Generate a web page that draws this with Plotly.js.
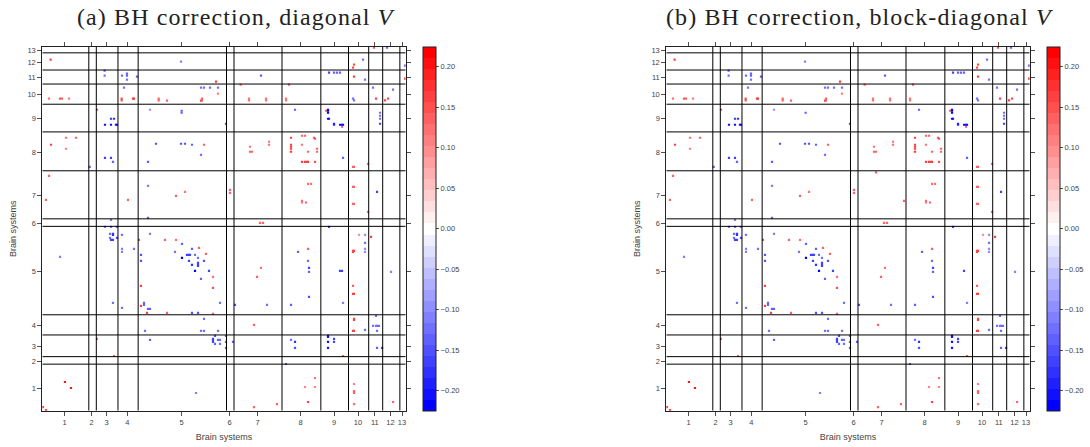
<!DOCTYPE html>
<html><head><meta charset="utf-8">
<script src="https://cdn.plot.ly/plotly-3.0.1.min.js"></script>
<style>html,body{margin:0;padding:0;background:#fff}.annotation-text{letter-spacing:1.1px}</style></head>
<body><div id="chart" style="width:1090px;height:447px"></div>
<script>
// Positions are along the brain-region ordering, on a 0-1090 matrix scale.
const tickLabels=["1","2","3","4","5","6","7","8","9","10","11","12","13"];
const tickPositions=[67,148,192.5,255,417.5,561.5,645.5,774.5,875,947,997.5,1044.5,1079];
const systemBoundaries=[139.5,162,227,287.5,552.5,575,719,835.5,918.5,979,1021,1072.5];
const colorTicks=[-0.20,-0.15,-0.10,-0.05,0,0.05,0.10,0.15,0.20];
const colorLimit=0.2245;

const redX=[25,20,53,59,80,238,238,272,275,349,349,374,479,476,479,521,527,164,71,101,26,71,485,20,11,257,401,428,563,563,
995,935,932,935,595,740,620,620,671,671,731,731,1001,1028,1037,1088,851,899,
779,788,815,818,746,680,680,623,623,629,746,746,746,746,779,824,824,797,779,788,794,797,818,932,935,977,797,806,932,935,
779,779,791,932,935,977,653,662,
290,368,401,470,491,512,512,296,296,314,374,512,164,215,68,86,2,11,
950,986,797,932,935,932,656,644,932,932,935,935,935,635,932,935,902,818,788,818,935,935,935,935,797,935,704,635,1052];
const redY=[1052,935,935,935,935,935,930,935,935,935,930,929,935,929,930,986,950,902,818,818,797,785,797,704,632,632,644,656,662,653,
1088,1037,1028,1001,977,977,935,930,935,930,935,930,935,930,935,995,899,851,
824,824,818,815,818,806,797,791,776,776,797,791,785,776,797,785,776,776,746,746,746,746,746,731,731,740,680,680,671,671,
629,624,624,620,620,596,563,563,
512,512,512,488,470,401,368,374,314,293,293,290,215,164,86,68,11,2,
527,521,485,479,479,476,428,401,374,350,350,275,272,257,239,239,164,98,71,71,80,59,56,53,26,20,20,11,26];
const redV=[.16,.12,.13,.13,.11,.15,.15,.16,.16,.14,.14,.14,.13,.16,.14,.17,.11,.15,.12,.13,.16,.11,.14,.13,.13,.13,.13,.12,.14,.13,
.15,.15,.15,.17,.12,.13,.12,.12,.12,.12,.12,.12,.17,.16,.15,.15,.13,.13,
.13,.13,.15,.15,.16,.12,.12,.12,.13,.13,.16,.16,.16,.18,.12,.13,.13,.13,.17,.17,.17,.17,.15,.14,.14,.14,.12,.12,.14,.14,
.12,.12,.13,.14,.14,.13,.13,.13,
.15,.14,.12,.13,.14,.12,.15,.16,.16,.16,.14,.14,.13,.14,.2,.2,.17,.16,
.1,.17,.14,.16,.16,.16,.12,.13,.13,.16,.16,.16,.16,.13,.17,.17,.14,.12,.11,.11,.11,.13,.13,.13,.16,.12,.13,.13,.14];

const blueX=[416,187,187,239,254,254,254,284,245,476,485,503,527,323,418,206,215,188,206,221,224,551,341,416,428,449,476,188,206,212,317,142,317,206,317,188,206,224,
962,1034,1088,860,875,884,893,968,656,992,1052,932,935,758,857,857,857,857,860,875,875,893,899,902,1013,1013,1013,1013,902,1004,860,
53,203,203,212,212,206,212,224,239,239,239,275,323,296,296,398,419,419,434,440,443,440,449,458,449,467,467,467,467,485,458,500,476,212,239,305,305,317,323,533,578,449,467,485,308,476,485,527,323,518,512,512,512,518,527,533,533,551,551,551,572,461,
968,968,968,968,767,797,800,800,893,1046,800,902,674,746,1001,992,1001,1004,1010,1004,968,746,758,758,857,857,857,857,875,875,1004,1019,731];
const blueY=[1046,1019,1004,1004,1010,1004,992,1001,968,968,968,968,968,902,893,875,875,857,857,857,857,860,800,800,800,797,767,758,758,746,746,731,674,572,578,551,551,551,
1052,1088,1034,1013,1013,1013,1013,992,1004,968,962,935,930,902,902,899,893,875,875,860,857,857,857,857,893,884,875,860,758,656,551,
461,530,518,530,527,512,512,518,527,485,476,485,530,467,449,476,500,458,467,467,467,449,485,467,437,458,443,437,434,449,419,419,395,323,308,323,317,305,305,323,317,293,293,275,239,239,239,239,212,224,215,212,206,200,212,212,200,224,206,188,206,53,
527,503,485,476,476,449,428,416,419,416,341,323,317,317,284,254,254,254,254,239,242,212,206,188,224,221,206,188,215,206,188,188,140];
const blueV=[-.11,-.14,-.12,-.12,-.13,-.13,-.12,-.13,-.12,-.12,-.12,-.12,-.12,-.1,-.13,-.18,-.18,-.2,-.2,-.2,-.2,-.16,-.15,-.15,-.15,-.13,-.12,-.16,-.16,-.13,-.14,-.13,-.11,-.11,-.14,-.12,-.12,-.12,
-.12,-.14,-.13,-.16,-.13,-.13,-.13,-.12,-.13,-.12,-.12,-.12,-.12,-.13,-.22,-.22,-.22,-.2,-.2,-.19,-.19,-.21,-.21,-.21,-.12,-.12,-.12,-.16,-.13,-.16,-.16,
-.11,-.12,-.12,-.18,-.18,-.16,-.16,-.15,-.12,-.11,-.11,-.12,-.11,-.15,-.15,-.12,-.14,-.22,-.17,-.17,-.17,-.17,-.13,-.12,-.18,-.12,-.16,-.16,-.16,-.15,-.22,-.17,-.13,-.12,-.12,-.14,-.14,-.14,-.14,-.12,-.15,-.15,-.15,-.12,-.12,-.12,-.12,-.12,-.13,-.15,-.16,-.16,-.16,-.13,-.14,-.12,-.12,-.13,-.14,-.14,-.13,-.11,
-.1,-.12,-.1,-.1,-.13,-.12,-.16,-.13,-.17,-.11,-.15,-.11,-.12,-.13,-.12,-.12,-.12,-.12,-.12,-.12,-.12,-.12,-.18,-.15,-.2,-.2,-.21,-.21,-.16,-.16,-.14,-.17,-.14];

// Cells found only under the diagonal V model
const onlyAX=[418,899], onlyAY=[899,419], onlyAV=[-.13,-.17];
// Cells found only under the block-diagonal V model
const onlyBX=[629,713], onlyBY=[714,629], onlyBV=[.13,.13];

const xA=[...redX,...blueX,...onlyAX], yA=[...redY,...blueY,...onlyAY], vA=[...redV,...blueV,...onlyAV];
const xB=[...redX,...blueX,...onlyBX], yB=[...redY,...blueY,...onlyBY], vB=[...redV,...blueV,...onlyBV];

// Banded blue-white-red scale
const halfBands=16, bands=2*halfBands+1, scale=[];
for(let i=0;i<bands;i++){
  const t=(i-halfBands)/halfBands, k=Math.round(255*(1-Math.abs(t)));
  const c=t<0?`rgb(${k},${k},255)`:`rgb(255,${k},${k})`;
  scale.push([i/bands,c],[(i+1)/bands,c]);
}

const W=1090,H=447,offset=624,left=42.3,right=405.7,top_=47,bottom=410.7;
const font={family:'"Liberation Sans",Arial,sans-serif',size:7.5,color:'#444'};
const axisTitleFont={family:font.family,size:9,color:'#444'};
function axis(extra){
  return Object.assign({range:[0,1090],tickvals:tickPositions,ticktext:tickLabels,ticks:'outside',ticklen:4,tickwidth:0.8,tickcolor:'#222',
    showgrid:false,zeroline:false,showline:true,linecolor:'#222',linewidth:1,mirror:'ticks',tickfont:font,tickangle:0,
    title:{text:'Brain systems',font:axisTitleFont,standoff:7}},extra);
}
function colorAxis(x){
  return {cmin:-colorLimit,cmax:colorLimit,colorscale:scale,colorbar:{
    x:x/W,xanchor:'left',y:(H-bottom)/H,yanchor:'bottom',len:(bottom-top_)/H,lenmode:'fraction',thickness:13,thicknessmode:'pixels',
    xpad:0,ypad:0,outlinewidth:1,outlinecolor:'#222',tickvals:colorTicks,ticktext:['−0.20','−0.15','−0.10','−0.05','0.00','0.05','0.10','0.15','0.20'],
    ticks:'outside',ticklen:3,tickwidth:0.8,tickcolor:'#222',tickfont:font,title:{text:''}}};
}
function boundaryLines(xa,ya){
  const lx=[],ly=[];
  systemBoundaries.forEach(b=>{lx.push(b,b,null,0,1090,null);ly.push(0,1090,null,b,b,null);});
  return {type:'scatter',mode:'lines',x:lx,y:ly,xaxis:xa,yaxis:ya,line:{color:'#000',width:1},hoverinfo:'skip',showlegend:false};
}
function cells(x,y,v,xa,ya,ca){
  return {type:'scatter',mode:'markers',x,y,xaxis:xa,yaxis:ya,showlegend:false,
    marker:{symbol:'square',size:2.2,color:v,coloraxis:ca,line:{width:0}}};
}
const titleFont={family:'"Liberation Serif","Times New Roman",serif',size:24,color:'#222'};
const layout={width:W,height:H,margin:{l:0,r:0,t:0,b:0},paper_bgcolor:'#fff',plot_bgcolor:'#fff',showlegend:false,
  xaxis:axis({domain:[left/W,right/W],anchor:'y'}),
  yaxis:axis({domain:[(H-bottom)/H,(H-top_)/H],anchor:'x',title:{text:'Brain systems',font:axisTitleFont,standoff:9}}),
  xaxis2:axis({domain:[(left+offset)/W,(right+offset)/W],anchor:'y2'}),
  yaxis2:axis({domain:[(H-bottom)/H,(H-top_)/H],anchor:'x2',title:{text:'Brain systems',font:axisTitleFont,standoff:9}}),
  coloraxis:colorAxis(423.3),coloraxis2:colorAxis(423.3+offset),
  annotations:[
   {text:'(a) BH correction, diagonal <i>V</i>',xref:'paper',yref:'paper',x:235.5/W,y:(H-17)/H,xanchor:'center',yanchor:'middle',showarrow:false,font:titleFont},
   {text:'(b) BH correction, block-diagonal <i>V</i>',xref:'paper',yref:'paper',x:859/W,y:(H-17)/H,xanchor:'center',yanchor:'middle',showarrow:false,font:titleFont}
  ]};
Plotly.newPlot('chart',[
  cells(xA,yA,vA,'x','y','coloraxis'),boundaryLines('x','y'),
  cells(xB,yB,vB,'x2','y2','coloraxis2'),boundaryLines('x2','y2')
],layout,{displayModeBar:false,staticPlot:true});
</script></body></html>
